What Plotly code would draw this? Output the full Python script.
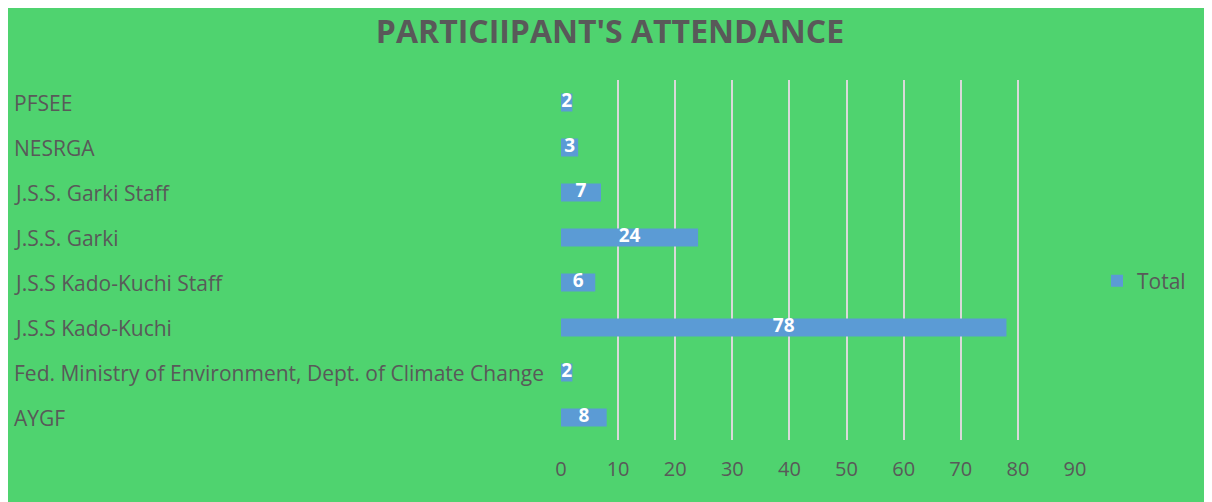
import plotly.graph_objects as go

categories = ["AYGF", "Fed. Ministry of Environment, Dept. of Climate Change",
              "J.S.S Kado-Kuchi", "J.S.S Kado-Kuchi Staff", "J.S.S. Garki",
              "J.S.S. Garki Staff", "NESRGA", "PFSEE"]
values = [8, 2, 78, 6, 24, 7, 3, 2]
x_ticks = [0, 10, 20, 30, 40, 50, 60, 70, 80, 90]
title = "PARTICIIPANT'S ATTENDANCE"
series_name = "Total"

GREEN = "#4fd36f"
BLUE = "#5b9bd5"
GRAY = "#595959"
FONT = "Open Sans"

# page is offset by 8px body margin
L, R, T, B = 553, 145, 72, 70
W, H = 1212, 502
pw, ph = W - L - R, H - T - B

fig = go.Figure()
fig.add_trace(go.Bar(
    y=categories, x=values, orientation="h", name=series_name,
    marker=dict(color=BLUE, line=dict(width=0)), width=0.4,
))
fig.add_trace(go.Scatter(
    y=categories, x=[v / 2 for v in values], mode="text",
    text=[str(v) for v in values],
    textfont=dict(family=FONT, size=19, color="white", weight="bold"),
    showlegend=False, hoverinfo="skip", cliponaxis=False,
))

annotations = []
for c in categories:
    annotations.append(dict(
        xref="paper", yref="y", x=(4 - L) / pw, y=c, xanchor="left",
        yanchor="middle", text=c, showarrow=False,
        font=dict(family=FONT, size=21, color=GRAY),
    ))

fig.update_layout(
    width=W, height=H,
    margin=dict(l=L, r=R, t=T, b=B),
    paper_bgcolor=GREEN, plot_bgcolor=GREEN,
    title=dict(text="<b>" + title + "</b>", x=602 / W, xref="container",
               xanchor="center", y=(H - 24) / H, yref="container",
               yanchor="middle",
               font=dict(family=FONT, size=32, color=GRAY)),
    xaxis=dict(range=[0, 90], tickvals=x_ticks, showgrid=True,
               gridcolor="#d9d9d9", gridwidth=2, zeroline=True,
               zerolinecolor=GREEN, zerolinewidth=3,
               ticks="outside", ticklen=11, tickcolor="rgba(0,0,0,0)",
               tickfont=dict(family=FONT, size=20, color=GRAY),
               showline=False, fixedrange=True),
    yaxis=dict(showticklabels=False, showgrid=False, zeroline=False,
               range=[-0.5, 7.5]),
    legend=dict(x=(1089 - L) / pw, y=(H - B - 273) / ph, xanchor="left",
                yanchor="middle", font=dict(family=FONT, size=21, color=GRAY),
                bgcolor="rgba(0,0,0,0)", itemwidth=30),
    annotations=annotations,
    bargap=0.6,
    showlegend=True,
)

fig.write_html("out.html")
